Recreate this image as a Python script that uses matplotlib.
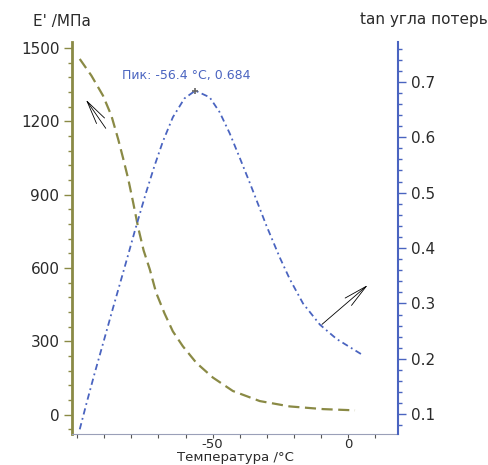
import matplotlib
matplotlib.use("Agg")
import matplotlib.pyplot as plt
from matplotlib.ticker import MultipleLocator

# storage modulus E' (left axis), MPa
temp_e = [-99.1, -94.8, -90.5, -87.4, -84.9, -83.1, -81.2, -79.4, -77.5,
          -75.5, -73.2, -70.9, -67.8, -64.7, -61.0, -56.0, -49.9, -42.5,
          -32.6, -21.5, -9.1, 2.6]
e_mod = [1455, 1387, 1305, 1223, 1127, 1050, 965, 870, 765,
         672, 594, 500, 415, 341, 280, 212, 152, 97,
         56, 34, 23, 18]

# loss tangent (right axis)
temp_tan = [-99.1, -96.7, -93.6, -89.9, -86.8, -83.7, -81.2, -78.8, -76.4,
            -74.6, -71.5, -68.4, -64.7, -60.4, -56.4, -51.1, -47.4, -43.7,
            -40.0, -36.3, -33.2, -30.1, -25.2, -21.5, -16.6, -10.4, -4.2, 5.1]
tan_d = [0.073, 0.118, 0.174, 0.238, 0.292, 0.345, 0.388, 0.430, 0.470,
         0.500, 0.548, 0.592, 0.636, 0.670, 0.684, 0.672, 0.645, 0.607,
         0.563, 0.518, 0.479, 0.440, 0.383, 0.344, 0.300, 0.262, 0.236, 0.208]

peak_t, peak_v = -56.4, 0.684

olive = '#8a8a45'
blue = '#4a64c0'
txt = '#2a2a2a'

fig = plt.figure(figsize=(4.89, 4.65), dpi=100)
ax = fig.add_axes([0.147, 0.066, 0.667, 0.844])
ax2 = ax.twinx()

ax.plot(temp_e, e_mod, color=olive, lw=1.6, dashes=(5, 2.5))
ax2.plot(temp_tan, tan_d, color=blue, lw=1.3, dashes=(3.5, 2, 1, 2))
ax2.plot([peak_t], [peak_v], marker='+', color='#666666', ms=5, mew=1.2)

ax.set_xlim(-102, 18.5)
ax.set_ylim(-80, 1525)
ax2.set_ylim(0.064, 0.772)

ax.xaxis.set_major_locator(MultipleLocator(50))
ax.xaxis.set_minor_locator(MultipleLocator(10))
ax.yaxis.set_major_locator(MultipleLocator(300))
ax.yaxis.set_minor_locator(MultipleLocator(60))
ax2.yaxis.set_major_locator(MultipleLocator(0.1))
ax2.yaxis.set_minor_locator(MultipleLocator(0.02))

for a in (ax, ax2):
    a.spines['top'].set_visible(False)
ax.spines['right'].set_visible(False)
ax2.spines['bottom'].set_visible(False)
ax2.spines['left'].set_visible(False)
ax.spines['left'].set_color(olive)
ax.spines['left'].set_linewidth(2)
ax2.spines['right'].set_color(blue)
ax2.spines['right'].set_linewidth(1.5)
ax.spines['bottom'].set_color('#9aa0b8')
ax.spines['bottom'].set_linewidth(0.8)

ax.tick_params(axis='y', which='major', length=6, width=1, color=olive,
               labelsize=11, labelcolor=txt, pad=3)
ax.tick_params(axis='y', which='minor', length=3, width=1, color=olive)
ax2.tick_params(axis='y', which='major', length=6, width=1, color=blue,
                labelsize=11, labelcolor=txt, pad=3)
ax2.tick_params(axis='y', which='minor', length=3, width=1, color=blue)
ax.tick_params(axis='x', which='both', length=3, width=0.8, color='#555555',
               labelsize=9.5, labelcolor=txt, pad=0)
ax.set_xticks([-50, 0])
ax.set_xticklabels(['-50', '0'])

ax.set_xlabel('Температура /°C', fontsize=9.5, color=txt, labelpad=0)
fig.text(0.068, 0.953, "E' /МПа", fontsize=11, color=txt, va='center')
fig.text(0.997, 0.957, 'tan угла потерь', fontsize=11, color=txt,
         va='center', ha='right')

ax2.annotate('Пик: -56.4 °C, 0.684', xy=(peak_t, peak_v),
             xytext=(-83.3, 0.711), fontsize=9, color=blue, va='center')

# arrows pointing to the axis each curve belongs to
head = '->,head_length=1.7,head_width=0.35'
ax.annotate('', xy=(-97.4, 1298), xytext=(-88.9, 1162),
            arrowprops=dict(arrowstyle=head, color='black', lw=0.6))
ax.annotate('', xy=(8.1, 538), xytext=(-10.4, 362),
            arrowprops=dict(arrowstyle=head, color='black', lw=0.6))

fig.savefig('out.png', dpi=100)
